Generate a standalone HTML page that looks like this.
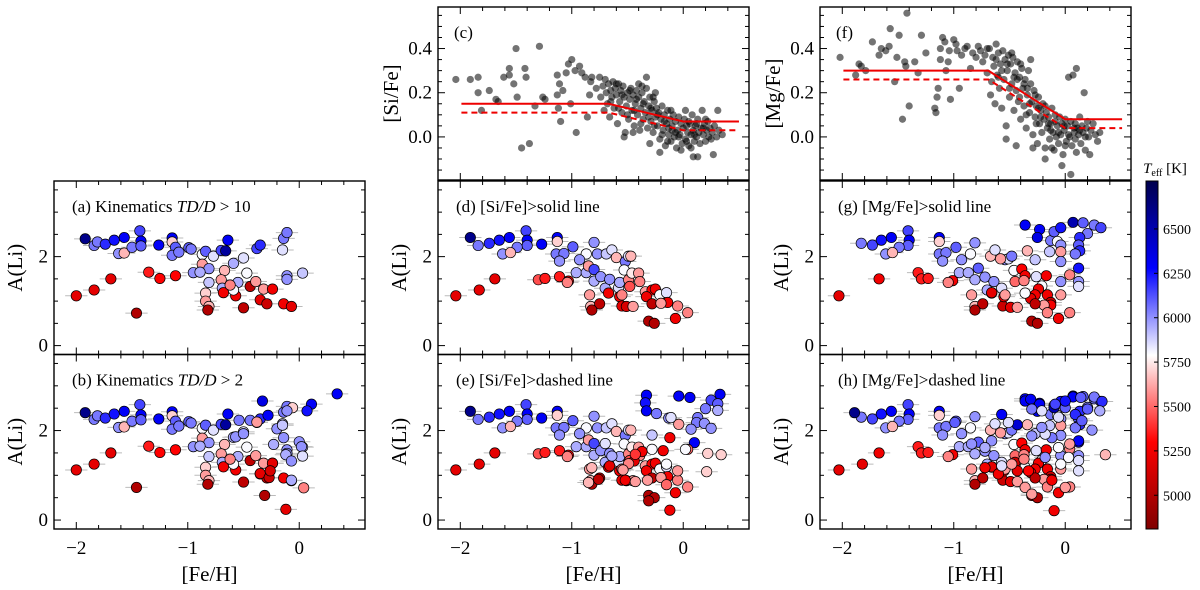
<!DOCTYPE html>
<html><head><meta charset="utf-8"><style>
html,body{margin:0;padding:0;background:#fff;}
svg{display:block;font-family:"Liberation Serif",serif;}
</style></head><body>
<svg id="fig" width="1200" height="590" viewBox="0 0 1200 590" xmlns="http://www.w3.org/2000/svg"></svg>
<script>
// ---------- DATA ----------
// Li panels: [Fe/H], A(Li), Teff
const panelA = [[-2.00,1.12,5200],[-1.92,2.40,6600],[-1.84,2.25,6050],[-1.81,2.33,6050],[-1.74,2.28,6200],[-1.84,1.25,5200],[-1.69,1.50,5200],[-1.66,2.37,6250],[-1.57,2.43,6300],[-1.62,2.07,6000],[-1.57,2.08,5650],[-1.50,2.21,6050],[-1.46,0.73,5000],[-1.43,2.58,6150],[-1.42,2.35,6300],[-1.42,2.24,6100],[-1.35,1.65,5350],[-1.26,2.26,6300],[-1.25,1.51,5300],[-1.11,1.57,5300],[-1.14,2.42,6300],[-1.14,2.33,5700],[-1.11,2.21,6100],[-1.14,2.03,6050],[-1.08,2.10,6050],[-0.99,2.20,6100],[-0.97,2.17,6050],[-0.87,2.05,5800],[-0.84,2.12,6100],[-0.87,1.83,5600],[-0.81,1.73,6000],[-0.95,1.64,6000],[-0.89,1.65,5950],[-0.77,2.01,5850],[-0.81,1.42,5900],[-0.84,1.18,5700],[-0.84,1.00,5600],[-0.81,0.88,5650],[-0.82,0.80,5000],[-0.67,1.69,5650],[-0.70,1.48,5600],[-0.69,1.29,5950],[-0.68,1.19,5250],[-0.70,2.14,6150],[-0.66,2.13,6550],[-0.64,2.37,6300],[-0.59,1.85,5950],[-0.57,1.12,5250],[-0.55,1.42,5950],[-0.59,1.25,5800],[-0.62,1.36,5550],[-0.50,1.97,5850],[-0.50,0.85,5050],[-0.47,1.63,5800],[-0.44,1.33,5050],[-0.39,1.44,5600],[-0.38,2.18,6150],[-0.35,2.26,6200],[-0.35,1.03,5200],[-0.32,1.27,5600],[-0.29,0.94,5100],[-0.24,1.27,5250],[-0.15,2.15,5850],[-0.14,2.41,6050],[-0.11,2.54,6050],[-0.11,1.57,6000],[-0.11,1.49,6000],[-0.14,0.94,5250],[-0.07,0.88,5200],[0.03,1.63,5900]];
const panelBExtra = [[0.34,2.82,6300],[-0.33,2.66,6350],[0.11,2.59,6300],[0.07,2.44,6250],[-0.06,2.51,5700],[-0.11,2.44,6000],[-0.28,2.34,6300],[-0.44,2.23,6050],[-0.54,2.23,6050],[-0.20,2.04,6000],[-0.15,2.12,5900],[-0.14,1.84,6000],[-0.23,1.69,5950],[0.00,1.75,6000],[0.02,1.64,6000],[-0.12,1.46,5950],[-0.07,1.32,6000],[0.03,1.43,5850],[-0.07,0.89,5950],[0.04,0.72,5550],[-0.12,0.24,5200],[-0.31,0.55,5000],[-0.35,1.04,5200],[-0.27,0.95,5100],[-0.24,1.27,5200],[-0.26,1.10,5150],[-0.38,2.19,5600],[-0.57,1.86,6000],[-0.50,1.93,6000]];
const panelD = [[-2.04,1.12,5200],[-1.91,2.43,6600],[-1.84,2.25,6050],[-1.74,2.30,6200],[-1.65,2.37,6250],[-1.56,2.43,6300],[-1.41,2.58,6150],[-1.40,2.37,6300],[-1.40,2.25,6100],[-1.49,2.21,6050],[-1.62,2.06,6000],[-1.55,2.09,5650],[-1.83,1.25,5200],[-1.69,1.50,5200],[-1.27,2.28,6300],[-1.30,1.48,5450],[-1.24,1.51,5350],[-1.11,1.55,5350],[-1.03,1.45,5250],[-1.04,1.42,5550],[-1.13,2.43,6300],[-1.13,2.34,5700],[-1.14,2.06,6050],[-1.07,2.07,6050],[-0.99,2.22,6100],[-1.11,1.90,6000],[-0.87,2.06,5800],[-0.93,1.93,6000],[-0.96,1.64,5950],[-0.87,1.64,5950],[-0.85,1.79,5600],[-0.80,2.32,6000],[-0.77,2.06,6000],[-0.80,1.71,6150],[-0.80,1.45,5950],[-0.74,1.55,6000],[-0.69,2.06,5900],[-0.70,1.29,5950],[-0.67,1.18,5250],[-0.64,2.15,5850],[-0.60,1.98,5650],[-0.66,1.49,6000],[-0.58,1.30,5850],[-0.57,1.42,5950],[-0.52,1.89,6050],[-0.49,2.01,5850],[-0.47,2.01,5650],[-0.53,1.70,5800],[-0.49,1.48,5550],[-0.46,1.63,5750],[-0.40,1.63,5600],[-0.39,1.44,5550],[-0.48,1.33,5450],[-0.57,1.10,5250],[-0.55,1.14,5550],[-0.84,1.14,5600],[-0.83,0.88,5650],[-0.75,0.94,5050],[-0.82,0.80,5000],[-0.55,0.89,5200],[-0.51,0.88,5150],[-0.45,0.88,5600],[-0.34,1.21,5600],[-0.28,1.25,5300],[-0.25,1.27,5250],[-0.33,1.10,5250],[-0.28,0.94,5050],[-0.21,1.14,5800],[-0.15,1.19,5850],[-0.14,0.97,5250],[-0.20,0.95,5600],[-0.05,0.89,5550],[0.04,0.74,5550],[-0.07,0.61,5250],[-0.31,0.55,5000],[-0.26,0.50,5000]];
const panelEExtra = [[-0.33,2.79,6300],[-0.34,2.62,6250],[-0.33,2.44,6300],[-0.04,2.77,6300],[0.06,2.74,6300],[0.33,2.81,6300],[0.25,2.68,6150],[0.31,2.60,6100],[0.31,2.45,5950],[0.20,2.49,6050],[0.13,2.29,6050],[0.12,2.18,6050],[0.19,2.16,6000],[0.25,2.05,6000],[0.07,2.03,6000],[-0.24,2.38,6050],[-0.13,2.28,6000],[-0.11,2.29,5850],[-0.04,2.14,5600],[-0.28,1.90,5900],[-0.12,1.84,5250],[0.10,1.73,6300],[0.04,1.58,5500],[0.02,1.58,5800],[0.22,1.49,5700],[0.34,1.46,5700],[0.21,1.08,5700],[-0.18,1.55,5250],[-0.28,1.58,5800],[-0.37,1.53,5250],[-0.44,1.32,5200],[-0.43,1.47,5400],[-0.49,1.26,5550],[-0.32,0.89,5600],[-0.15,1.25,5800],[-0.05,1.10,5600],[-0.15,0.79,5500],[-0.12,0.22,5250],[-0.31,0.43,5000],[-0.52,0.89,5250],[-0.43,0.86,5600],[-0.66,1.21,5200],[-0.54,1.12,5600],[-0.70,1.71,5850],[-0.64,1.43,5950],[-0.82,1.17,5650],[-0.85,0.84,5650],[-0.76,0.91,5050]];
const panelG = [[-2.03,1.12,5200],[-1.83,2.30,6050],[-1.73,2.26,6150],[-1.65,2.37,6250],[-1.56,2.43,6300],[-1.41,2.58,6150],[-1.40,2.37,6300],[-1.41,2.25,6100],[-1.49,2.21,6050],[-1.61,2.06,6000],[-1.55,2.09,5650],[-1.67,1.50,5250],[-1.32,1.64,5350],[-1.29,1.50,5350],[-1.23,1.51,5350],[-1.01,1.46,5250],[-1.05,1.42,5550],[-1.13,2.43,6300],[-1.13,2.34,5700],[-1.13,2.06,6050],[-1.07,2.09,6050],[-0.98,2.21,6100],[-1.10,1.90,6000],[-0.85,2.06,5800],[-0.93,1.93,6000],[-0.95,1.64,5950],[-0.87,1.64,5950],[-0.81,2.31,6000],[-0.78,1.74,6100],[-0.81,1.48,5950],[-0.72,1.54,6000],[-0.67,2.01,5650],[-0.63,2.15,5850],[-0.70,1.25,5950],[-0.66,1.18,5250],[-0.64,1.44,6000],[-0.57,1.29,5850],[-0.54,1.93,6000],[-0.51,1.95,5850],[-0.58,1.95,5600],[-0.48,2.01,6050],[-0.46,1.69,5800],[-0.39,1.72,5300],[-0.36,1.57,5250],[-0.45,1.44,5500],[-0.37,1.46,5550],[-0.36,2.71,6300],[-0.23,2.61,6300],[-0.25,2.43,6350],[-0.34,2.13,5650],[-0.27,1.93,5900],[-0.26,1.55,5850],[-0.17,1.57,5250],[-0.13,2.36,6050],[-0.10,2.56,6100],[-0.04,2.65,6250],[-0.07,2.34,5800],[-0.04,2.26,6000],[-0.04,2.11,5600],[-0.14,2.11,5900],[-0.04,1.89,6000],[0.07,2.77,6500],[0.16,2.76,6100],[0.26,2.71,6050],[0.32,2.65,6150],[0.20,2.52,6050],[0.13,2.43,6200],[0.12,2.26,6100],[0.13,2.13,6200],[0.09,2.06,6050],[0.12,1.74,6250],[0.04,1.59,5550],[-0.04,1.44,6000],[0.12,1.44,6000],[0.12,1.33,5850],[-0.04,1.14,5600],[-0.21,1.34,5800],[-0.24,1.27,5250],[-0.27,1.14,5250],[-0.31,1.06,5200],[-0.36,1.18,5800],[-0.16,1.14,5250],[-0.13,0.97,5100],[-0.13,0.91,5250],[-0.19,0.91,5600],[-0.27,0.94,5050],[-0.16,0.74,5550],[-0.06,0.61,5250],[0.04,0.74,5550],[-0.30,0.55,5000],[-0.25,0.50,5000],[-0.56,0.89,5100],[-0.49,0.86,5200],[-0.43,0.86,5600],[-0.55,1.10,5250],[-0.54,1.14,5600],[-0.84,1.14,5600],[-0.81,0.88,5650],[-0.74,0.94,5050],[-0.81,0.80,5000],[-0.66,1.19,5200]];
const panelHExtra = [[-1.89,2.40,6600],[-1.82,1.25,5200],[-0.36,2.66,6300],[-0.31,2.70,6300],[-0.23,2.59,6300],[-0.30,2.48,6050],[-0.21,2.44,5850],[-0.10,2.51,6500],[-0.09,2.59,6150],[0.00,2.51,6100],[0.07,2.75,6300],[0.00,2.66,6250],[0.14,2.74,6100],[0.26,2.75,6050],[0.33,2.65,6200],[0.31,2.44,5950],[0.20,2.48,6100],[-0.06,2.30,5850],[0.09,2.36,6200],[0.15,2.22,6100],[0.24,2.01,6000],[0.12,1.77,6300],[0.04,1.70,5600],[-0.12,1.84,6050],[-0.18,1.92,5850],[-0.21,2.07,6000],[-0.57,2.36,6300],[-0.43,2.13,6400],[-0.51,2.18,5850],[0.36,1.46,5650],[0.12,1.10,5850],[0.03,1.40,5800],[-0.06,1.62,5800],[-0.30,1.88,6000],[-0.18,1.40,6000],[-0.10,0.21,5250],[-0.45,1.29,5100],[-0.43,1.10,5200],[-0.33,1.10,5300],[-0.72,1.17,5250],[-0.60,1.03,5250],[-0.57,1.21,5850],[-0.48,1.25,5600],[-0.37,1.36,5550],[-0.04,1.25,5800],[-0.12,0.89,5250],[-0.36,0.73,5600],[-0.30,0.58,5600],[0.00,0.73,5600],[-0.66,1.77,6000],[-0.72,1.62,5950],[-0.84,1.70,6000],[-0.99,2.18,6100]];
// Abundance panels: [Fe/H], [X/Fe]
const siFe = [[-2.04,0.26],[-1.91,0.26],[-1.84,0.27],[-1.84,0.20],[-1.81,0.12],[-1.74,0.21],[-1.68,0.17],[-1.66,0.16],[-1.61,0.27],[-1.56,0.31],[-1.56,0.28],[-1.52,0.24],[-1.50,0.40],[-1.49,0.18],[-1.45,-0.05],[-1.42,0.31],[-1.41,0.27],[-1.38,-0.03],[-1.33,0.14],[-1.29,0.41],[-1.26,0.18],[-1.24,0.17],[-1.13,0.28],[-1.13,0.19],[-1.12,0.13],[-1.11,0.24],[-1.10,0.07],[-1.08,0.21],[-1.05,0.29],[-1.03,0.33],[-1.00,0.35],[-1.01,0.15],[-0.97,0.30],[-0.96,0.02],[-0.93,0.32],[-0.91,0.29],[-0.88,0.27],[-0.84,0.19],[-0.86,0.09],[-0.83,0.25],[-0.82,0.27],[-0.78,0.22],[-0.75,0.27],[-0.74,0.18],[-0.72,0.23],[-0.71,0.12],[-0.70,0.26],[-0.69,0.20],[-0.68,0.15],[-0.67,0.24],[-0.66,0.09],[-0.65,0.21],[-0.64,0.18],[-0.63,0.25],[-0.62,0.13],[-0.61,0.22],[-0.60,0.19],[-0.59,0.06],[-0.58,0.24],[-0.57,0.16],[-0.56,0.21],[-0.55,0.11],[-0.54,0.23],[-0.53,0.18],[-0.52,0.02],[-0.51,0.14],[-0.50,0.20],[-0.49,0.08],[-0.48,0.17],[-0.47,0.22],[-0.46,0.12],[-0.45,0.19],[-0.44,0.05],[-0.43,0.15],[-0.42,0.21],[-0.41,0.10],[-0.40,0.18],[-0.39,0.03],[-0.38,0.13],[-0.37,0.20],[-0.36,0.08],[-0.35,0.16],[-0.34,0.11],[-0.33,0.22],[-0.32,0.04],[-0.31,0.14],[-0.30,0.18],[-0.29,0.07],[-0.28,0.12],[-0.27,0.02],[-0.26,0.16],[-0.25,0.09],[-0.24,0.13],[-0.23,0.05],[-0.22,0.11],[-0.21,-0.01],[-0.20,0.08],[-0.19,0.14],[-0.18,0.03],[-0.17,0.10],[-0.16,-0.04],[-0.15,0.06],[-0.14,0.12],[-0.13,0.01],[-0.12,0.08],[-0.11,-0.02],[-0.10,0.05],[-0.09,0.10],[-0.08,0.00],[-0.07,0.07],[-0.06,-0.05],[-0.05,0.03],[-0.04,0.09],[-0.03,0.01],[-0.02,0.06],[-0.01,-0.03],[0.00,0.04],[0.01,0.08],[0.02,-0.01],[0.03,0.05],[0.04,0.02],[0.05,-0.04],[0.06,0.06],[0.07,0.01],[0.08,0.10],[0.09,0.03],[0.10,-0.02],[0.11,0.05],[0.12,0.00],[0.13,0.08],[0.14,0.02],[0.15,-0.03],[0.16,0.04],[0.17,0.12],[0.18,0.01],[0.19,0.06],[0.20,-0.02],[0.21,0.03],[0.22,0.07],[0.23,0.00],[0.24,0.04],[0.25,-0.01],[0.26,0.02],[0.28,0.05],[0.30,0.00],[0.32,0.03],[0.35,0.01],[0.27,-0.08],[0.13,-0.09],[0.09,-0.09],[-0.21,-0.07],[-0.30,-0.03],[-0.45,0.02],[-0.53,0.00],[-0.37,0.23],[-0.25,0.20],[-0.33,0.27],[-0.11,0.12],[0.02,0.12],[0.31,0.12],[-0.60,0.24],[-0.55,0.19],[-0.48,0.21],[-0.42,0.17],[-0.36,0.15],[-0.29,0.13],[-0.23,0.10],[-0.17,0.07],[-0.10,0.03],[-0.04,0.00],[0.03,-0.02],[0.10,0.01],[0.18,0.04],[-0.65,0.16],[-0.58,0.13],[-0.50,0.10],[-0.44,0.12],[-0.38,0.06],[-0.31,0.09],[-0.26,0.05],[-0.19,0.01],[-0.13,0.04],[-0.07,0.02],[0.05,0.07],[0.12,0.06],[0.20,0.08],[0.07,-0.05],[-0.02,-0.06],[-0.14,-0.02],[-0.40,0.24],[-0.27,0.18]];
const mgFe = [[-2.02,0.36],[-1.88,0.28],[-1.85,0.33],[-1.83,0.32],[-1.79,0.30],[-1.73,0.43],[-1.67,0.37],[-1.65,0.40],[-1.61,0.39],[-1.58,0.41],[-1.57,0.49],[-1.53,0.25],[-1.51,0.36],[-1.49,0.46],[-1.46,0.08],[-1.44,0.34],[-1.43,0.32],[-1.42,0.56],[-1.40,0.14],[-1.35,0.34],[-1.32,0.29],[-1.29,0.46],[-1.25,0.38],[-1.17,0.13],[-1.16,0.11],[-1.15,0.18],[-1.14,0.22],[-1.12,0.40],[-1.12,0.35],[-1.10,0.45],[-1.08,0.43],[-1.07,0.30],[-1.05,0.34],[-1.04,0.39],[-1.03,0.17],[-1.00,0.44],[-0.98,0.42],[-0.97,0.39],[-0.95,0.22],[-0.93,0.37],[-0.90,0.40],[-0.88,0.41],[-0.85,0.31],[-0.83,0.38],[-0.80,0.36],[-0.78,0.41],[-0.76,0.39],[-0.74,0.34],[-0.72,0.37],[-0.70,0.29],[-0.68,0.40],[-0.67,0.19],[-0.66,0.25],[-0.65,0.36],[-0.64,0.32],[-0.63,0.15],[-0.62,0.42],[-0.61,0.28],[-0.60,0.38],[-0.59,0.22],[-0.58,0.33],[-0.57,0.13],[-0.56,0.39],[-0.55,0.26],[-0.54,0.35],[-0.53,0.05],[-0.52,0.30],[-0.51,0.37],[-0.50,0.18],[-0.49,0.33],[-0.48,0.24],[-0.47,0.36],[-0.46,0.12],[-0.45,0.29],[-0.44,0.21],[-0.43,0.34],[-0.42,0.16],[-0.41,0.27],[-0.40,0.08],[-0.39,0.31],[-0.38,0.22],[-0.37,0.14],[-0.36,0.26],[-0.35,0.04],[-0.34,0.19],[-0.33,0.30],[-0.32,0.11],[-0.31,0.24],[-0.30,0.16],[-0.29,0.01],[-0.28,0.21],[-0.27,0.09],[-0.26,0.14],[-0.25,-0.03],[-0.24,0.18],[-0.23,0.06],[-0.22,0.12],[-0.21,0.02],[-0.20,0.15],[-0.19,0.08],[-0.18,-0.05],[-0.17,0.11],[-0.16,0.04],[-0.15,0.09],[-0.14,-0.01],[-0.13,0.06],[-0.12,0.13],[-0.11,0.02],[-0.10,-0.06],[-0.09,0.07],[-0.08,0.00],[-0.07,0.05],[-0.06,-0.03],[-0.05,0.09],[-0.04,0.01],[-0.03,0.06],[-0.02,-0.08],[-0.01,0.03],[0.00,0.08],[0.01,-0.02],[0.02,0.05],[0.03,0.27],[0.04,0.00],[0.05,0.07],[0.06,-0.04],[0.07,0.28],[0.08,0.02],[0.09,0.06],[0.10,-0.07],[0.11,0.04],[0.12,0.01],[0.13,0.09],[0.14,-0.03],[0.15,0.05],[0.16,0.02],[0.17,0.20],[0.18,-0.06],[0.19,0.04],[0.20,0.07],[0.21,0.00],[0.22,-0.08],[0.23,0.03],[0.25,0.06],[0.27,0.01],[0.29,-0.02],[0.31,0.02],[0.10,0.31],[-0.03,-0.13],[0.05,-0.17],[-0.18,-0.10],[-0.29,-0.05],[-0.44,-0.04],[-0.53,-0.01],[-0.40,0.33],[-0.31,0.35],[-0.48,0.38],[-0.62,0.35],[-0.70,0.40],[-0.57,0.30],[-0.46,0.27],[-0.37,0.24],[-0.27,0.19],[-0.18,0.14],[-0.09,0.10],[-0.01,0.05],[0.08,0.04],[-0.52,0.33],[-0.43,0.26],[-0.34,0.22],[-0.24,0.13],[-0.15,0.06],[-0.06,0.02],[0.03,0.01],[0.13,0.03],[-0.60,0.27],[-0.50,0.22],[-0.41,0.18],[-0.32,0.15],[-0.22,0.09],[-0.13,0.03],[0.00,-0.04],[0.18,0.00],[-0.35,0.10],[-0.26,0.06],[-0.12,-0.05],[0.09,-0.01]];
// Red threshold lines: knots in [Fe/H] and [X/Fe]
const siSolidX=[-1.99,-0.67,0.00,0.50], siSolidY=[0.15,0.15,0.07,0.07];
const siDashX=[-1.99,-0.67,0.00,0.50], siDashY=[0.11,0.11,0.03,0.03];
const mgSolidX=[-1.99,-0.69,0.00,0.51], mgSolidY=[0.30,0.30,0.08,0.08];
const mgDashX=[-1.99,-0.69,0.00,0.51], mgDashY=[0.26,0.26,0.04,0.04];
const cbarTicks=[5000,5250,5500,5750,6000,6250,6500];
const teffMin=4810, teffMax=6770;

// ---------- DRAW ----------
const NS="http://www.w3.org/2000/svg";
const svg=document.getElementById('fig');
function el(tag,attrs,parent,text){const e=document.createElementNS(NS,tag);for(const k in attrs)e.setAttribute(k,attrs[k]);if(text!==undefined)e.textContent=text;(parent||svg).appendChild(e);return e;}
function cmap(T){let t=(T-teffMin)/(teffMax-teffMin);t=Math.max(0,Math.min(1,t));const f=1-t;
 const st=[[0,0,0,0.3],[0.25,0,0,1],[0.5,1,1,1],[0.75,1,0,0],[1,0.5,0,0]];
 for(let i=0;i<4;i++){if(f<=st[i+1][0]){const a=st[i],b=st[i+1],u=(f-a[0])/(b[0]-a[0]);
  return 'rgb('+[1,2,3].map(j=>Math.round(255*(a[j]+(b[j]-a[j])*u))).join(',')+')';}}return 'rgb(128,0,0)';}
const colL=[54,438,820], W=311, XMIN=-2.2, XMAX=0.59;
const rows={top:[7,180,-0.195,0.588],mid:[181,354.5,-0.2,3.7],bot:[354.5,529,-0.2,3.7]};
function mkPanel(name,col,row){const [y0,y1,ymin,ymax]=rows[row];const x0=colL[col];
 const g=el('g',{},svg);
 return {g,x0,y0,y1,ymin,ymax,sx:v=>x0+(v-XMIN)/(XMAX-XMIN)*W,sy:v=>y1-(v-ymin)/(ymax-ymin)*(y1-y0)};}
function frame(p,yMajor,yMinor,yFmt,showYLabels,showXLabels){
 const g=p.g;
 const axes=el('g',{},g);
 for(let k=-11;k<=3;k++){const vv=k/5;const x=p.sx(vv);if(x<p.x0+1||x>p.x0+W-1)continue;
  const major=(k%5===0);const L=major?7:4;
  el('line',{x1:x,x2:x,y1:p.y1,y2:p.y1-L,stroke:'#000','stroke-width':1},axes);
  el('line',{x1:x,x2:x,y1:p.y0,y2:p.y0+L,stroke:'#000','stroke-width':1},axes);
  if(major&&showXLabels){const t=el('text',{x:x,y:p.y1+25,'text-anchor':'middle','font-size':19},axes,vv<0?'\u2212'+Math.abs(vv):String(vv));
   }}
 const ratio=Math.round(yMajor/yMinor);
 for(let k=Math.ceil(p.ymin/yMinor-1e-9);k<=Math.floor(p.ymax/yMinor+1e-9);k++){const vv=Math.round(k*yMinor*1000)/1000;const y=p.sy(vv);if(y<p.y0+1||y>p.y1-1)continue;
  const major=(k%ratio===0);const L=major?7:4;
  el('line',{x1:p.x0,x2:p.x0+L,y1:y,y2:y,stroke:'#000','stroke-width':1},axes);
  el('line',{x1:p.x0+W,x2:p.x0+W-L,y1:y,y2:y,stroke:'#000','stroke-width':1},axes);
  if(major&&showYLabels){const t=el('text',{x:p.x0-6,y:y+6,'text-anchor':'end','font-size':19},axes,yFmt(vv));
   }}
 el('rect',{x:p.x0,y:p.y0,width:W,height:p.y1-p.y0,fill:'none',stroke:'#000','stroke-width':1.4},axes);
}
function liPanel(name,col,row,data,label,showX){
 const p=mkPanel(name,col,row);
 const eb=el('g',{},p.g);
 data.forEach(d=>{el('line',{x1:p.sx(d[0]-0.1),x2:p.sx(d[0]+0.1),y1:p.sy(d[1]),y2:p.sy(d[1]),stroke:'#bbb','stroke-width':1},eb);});
 const pts=el('g',{},p.g);
 data.forEach(d=>{const c=el('circle',{cx:p.sx(d[0]),cy:p.sy(d[1]),r:5.2,fill:cmap(d[2]),stroke:'#000','stroke-width':0.7},pts);
  });
 frame(p,2,0.5,v=>String(v),true,showX);
 const t=el('text',{x:p.x0+18,y:p.y0+31,'font-size':17},p.g);t.innerHTML=label;
 
 const yl=el('text',{transform:`translate(${p.x0-32},${(p.y0+p.y1)/2}) rotate(-90)`,'text-anchor':'middle','font-size':21},p.g,'A(Li)');
 
 return p;}
function abPanel(name,col,data,label,ytitle,sX,sY,dX,dY){
 const p=mkPanel(name,col,'top');
 const pts=el('g',{},p.g);
 data.forEach(d=>{const c=el('circle',{cx:p.sx(d[0]),cy:p.sy(d[1]),r:3.6,fill:'rgba(0,0,0,0.55)'},pts);
  });
 const s=el('polyline',{points:sX.map((x,i)=>p.sx(x)+','+p.sy(sY[i])).join(' '),fill:'none',stroke:'#e00','stroke-width':2},p.g);
 
 const d=el('polyline',{points:dX.map((x,i)=>p.sx(x)+','+p.sy(dY[i])).join(' '),fill:'none',stroke:'#e00','stroke-width':2,'stroke-dasharray':'6,4'},p.g);
 
 frame(p,0.2,0.05,v=>v.toFixed(1),true,false);
 const t=el('text',{x:p.x0+16,y:p.y0+31,'font-size':17},p.g,label);
 
 const yl=el('text',{transform:`translate(${p.x0-40},${(p.y0+p.y1)/2}) rotate(-90)`,'text-anchor':'middle','font-size':21},p.g,ytitle);
 
 return p;}
const ital=s=>`<tspan font-style="italic">${s}</tspan>`;
liPanel('panel-a',0,'mid',panelA,'(a) Kinematics '+ital('TD/D')+' &gt; 10',false);
liPanel('panel-b',0,'bot',panelA.concat(panelBExtra),'(b) Kinematics '+ital('TD/D')+' &gt; 2',true);
abPanel('panel-c',1,siFe,'(c)','[Si/Fe]',siSolidX,siSolidY,siDashX,siDashY);
liPanel('panel-d',1,'mid',panelD,'(d) [Si/Fe]&gt;solid line',false);
liPanel('panel-e',1,'bot',panelD.concat(panelEExtra),'(e) [Si/Fe]&gt;dashed line',true);
abPanel('panel-f',2,mgFe,'(f)','[Mg/Fe]',mgSolidX,mgSolidY,mgDashX,mgDashY);
liPanel('panel-g',2,'mid',panelG,'(g) [Mg/Fe]&gt;solid line',false);
liPanel('panel-h',2,'bot',panelG.concat(panelHExtra),'(h) [Mg/Fe]&gt;dashed line',true);
[0,1,2].forEach(c=>{const t=el('text',{x:colL[c]+W/2,y:581,'text-anchor':'middle','font-size':21},svg,'[Fe/H]');
 });
// colorbar
const cb=el('g',{},svg);
const cbx=1146,cbw=12,cby0=181,cby1=529;
const defs=el('defs',{},svg);const lg=el('linearGradient',{id:'cbg',x1:0,y1:1,x2:0,y2:0},defs);
for(let i=0;i<=20;i++){const T=teffMin+(teffMax-teffMin)*i/20;el('stop',{offset:(i/20),'stop-color':cmap(T)},lg);}
el('rect',{x:cbx,y:cby0,width:cbw,height:cby1-cby0,fill:'url(#cbg)',stroke:'#000','stroke-width':1},cb);
const cy=T=>cby1-(T-teffMin)/(teffMax-teffMin)*(cby1-cby0);
cbarTicks.forEach(T=>{el('line',{x1:cbx+cbw,x2:cbx+cbw-4,y1:cy(T),y2:cy(T),stroke:'#000'},cb);
 const t=el('text',{x:cbx+cbw+5,y:cy(T)+5,'font-size':14},cb,String(T));});
const ct=el('text',{x:1165,y:173,'text-anchor':'middle','font-size':15},cb);ct.innerHTML='<tspan font-style="italic">T</tspan><tspan font-size="10" dy="3">eff</tspan><tspan dy="-3"> [K]</tspan>';

</script>
</body></html>
